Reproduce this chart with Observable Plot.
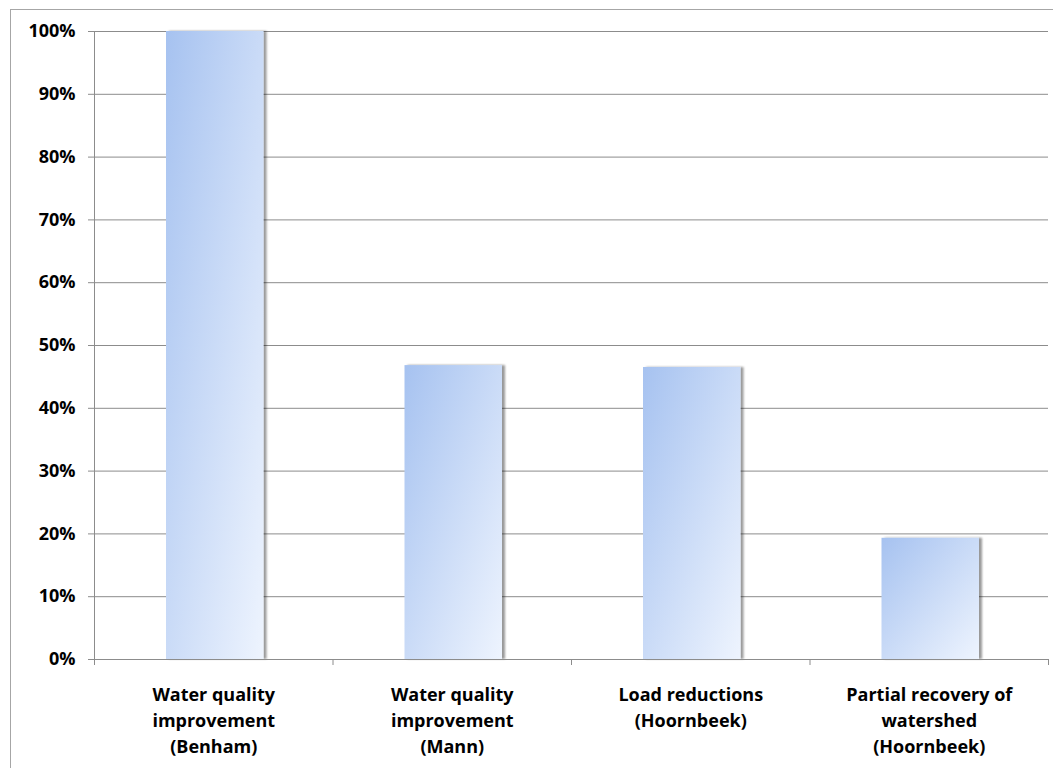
<!DOCTYPE html>
<html>
<head>
<meta charset="utf-8">
<script src="https://cdn.jsdelivr.net/npm/d3@7"></script>
<script src="https://cdn.jsdelivr.net/npm/@observablehq/plot@0.6"></script>
<style>
  html, body { margin: 0; padding: 0; background: #fff; overflow: hidden; }
  #chart { position: relative; width: 1053px; height: 768px; }
  #frame { position: absolute; left: 10px; top: 9px; width: 1100px; height: 800px;
           border: 1px solid #a6a6a6; pointer-events: none; }
  #chart svg { position: absolute; left: 0; top: 0; }
</style>
</head>
<body>
<div id="chart"><div id="frame"></div></div>
<script>
// Outcome categories (label lines separated by \n) and the share reported for each
const categories = [
  "Water quality\nimprovement\n(Benham)",
  "Water quality\nimprovement\n(Mann)",
  "Load reductions\n(Hoornbeek)",
  "Partial recovery of\nwatershed\n(Hoornbeek)"
];
const shares = [1.00, 0.468, 0.465, 0.193];
const yTicks = [0, 0.1, 0.2, 0.3, 0.4, 0.5, 0.6, 0.7, 0.8, 0.9, 1.0];
const categoryEdges = [0, 1, 2, 3, 4];

const rows = categories.map((label, i) => ({ i, label, value: shares[i] }));

const gridColor = "#8c8c8c";
const font = "'Open Sans', sans-serif";

const plot = Plot.plot({
  width: 1053,
  height: 768,
  marginLeft: 94,
  marginRight: 5,
  marginTop: 31,
  marginBottom: 109,
  style: { fontFamily: font, fontWeight: 700, fontSize: "18px", color: "#000", background: "transparent" },
  x: { type: "linear", domain: [0, 4], axis: null },
  y: { domain: [0, 1], axis: null },
  marks: [
    // horizontal gridlines
    Plot.ruleY(yTicks.slice(1), { stroke: gridColor, strokeWidth: 1 }),
    // bars
    Plot.rectY(rows, {
      x1: d => d.i,
      x2: d => d.i + 1,
      y: "value",
      insetLeft: 72,
      insetRight: 69,
      fill: "url(#barFill)"
    }),
    // value axis
    Plot.ruleX([0], { stroke: gridColor }),
    Plot.axisY({
      ticks: yTicks,
      tickFormat: d3.format(".0%"),
      tickSize: 6,
      tickPadding: 13,
      label: null,
      stroke: gridColor,
      fill: "#000",
      fontSize: 18,
      fontWeight: 700
    }),
    // category axis line and ticks between categories
    Plot.ruleY([0], { stroke: gridColor }),
    Plot.axisX({ ticks: categoryEdges, tickFormat: () => "", tickSize: 6, label: null, stroke: gridColor }),
    // category labels
    Plot.text(rows, {
      x: d => d.i + 0.5,
      y: 0,
      text: "label",
      lineAnchor: "top",
      lineHeight: 1.45,
      dy: 23,
      fontSize: 18,
      fontWeight: 700,
      fill: "#000"
    })
  ]
});

const svg = d3.select(plot);
svg.insert("defs", ":first-child").html(`
  <linearGradient id="barFill" x1="0" y1="0" x2="1" y2="1">
    <stop offset="0" stop-color="#a6c2f0"/>
    <stop offset="0.5" stop-color="#cadbf7"/>
    <stop offset="1" stop-color="#eef4fe"/>
  </linearGradient>
  <filter id="barShadow" x="-10%" y="-10%" width="130%" height="120%">
    <feDropShadow dx="3" dy="0" stdDeviation="1.3" flood-color="#000" flood-opacity="0.4"/>
  </filter>
`);
svg.selectAll("rect").filter(function () { return this.getAttribute("fill") === "url(#barFill)" || this.parentNode.getAttribute("fill") === "url(#barFill)"; })
  .attr("filter", "url(#barShadow)");

document.getElementById("chart").appendChild(plot);
</script>
</body>
</html>
